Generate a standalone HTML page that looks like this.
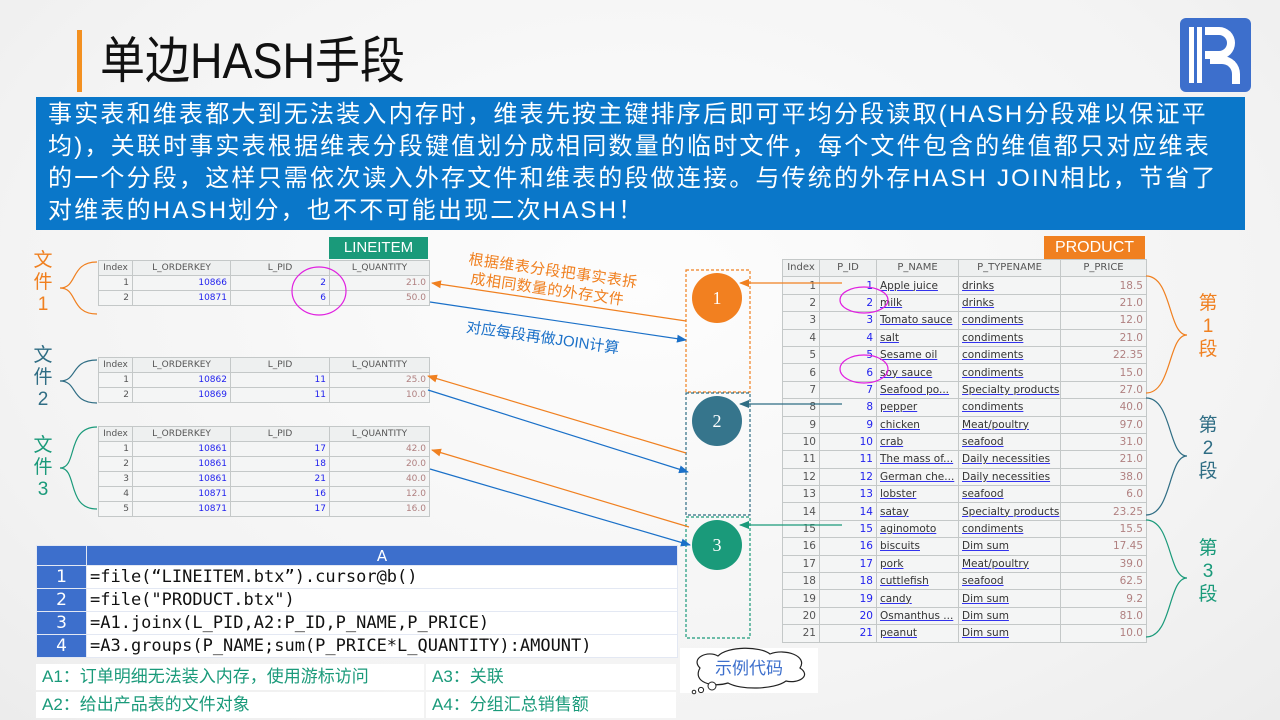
<!DOCTYPE html>
<html><head><meta charset="utf-8">
<style>
*{margin:0;padding:0;box-sizing:border-box}
body{width:1280px;height:720px;overflow:hidden;position:relative;background:radial-gradient(ellipse at 50% 40%,#fdfdfd 0%,#f3f3f3 70%,#ececec 100%);font-family:"Liberation Sans","Noto Sans CJK SC",sans-serif}
.abs{position:absolute}
table{border-collapse:collapse;table-layout:fixed;position:absolute;background:#f4f5f5}
td{border:1px solid #c4c8c8;font-family:"DejaVu Sans","Liberation Sans",sans-serif;white-space:nowrap;overflow:hidden;padding:0 3px}
.lt td{font-size:9px;height:15px;line-height:13px}
.lt tr.h td{color:#555;text-align:center;background:#eef0f0}
.lt td.i{text-align:right;color:#555}
.lt td.b{text-align:right;color:#2222ee}
.lt td.q{text-align:right;color:#b08080}
.pt td{font-size:10.5px;height:17.4px;line-height:16px}
.pt tr.h td{color:#555;text-align:center;font-size:10px;background:#eef0f0}
.pt td.i{text-align:right;color:#555}
.pt td.b{text-align:right;color:#2222ee}
.pt td.n{color:#333;text-decoration:underline;text-decoration-color:#3333ee}
.pt td.q{text-align:right;color:#b08080}
.cjk{font-family:"Liberation Sans","Noto Sans CJK SC",sans-serif}
.code td{border:1px solid #e3e8f3;height:23px;font-family:"DejaVu Sans Mono","Liberation Mono",monospace;font-size:17px;background:#fff;color:#111}
.code td.n{background:#3d6fcc;color:#fff;text-align:center;font-family:"DejaVu Sans",sans-serif;font-size:17px}
</style></head><body>
<div class="abs" style="left:77px;top:30px;width:5px;height:62px;background:#f39020"></div>
<div class="abs cjk" style="left:100px;top:28px;font-size:50px;line-height:66px;color:#111;transform:scaleX(0.9);transform-origin:0 0;white-space:nowrap">单边HASH手段</div>
<div class="abs" style="left:1180px;top:18px;width:71px;height:74px;background:#3d6fcc;border-radius:6px">
 <div class="abs" style="left:9px;top:9px;width:5px;height:56px;background:#fff"></div>
 <div class="abs" style="left:17px;top:9px;width:5px;height:56px;background:#fff"></div>
 <div class="abs" style="left:25px;top:9px;width:30px;height:32px;border:8px solid #fff;border-left:none;border-radius:0 16px 16px 0"></div>
 <div class="abs" style="left:30px;top:38px;width:30px;height:28px;border-top:8px solid #fff;border-right:8px solid #fff;border-radius:0 18px 0 0"></div>
</div>
<div class="abs cjk" style="left:36px;top:97px;width:1209px;height:133px;background:#0a77c9;color:#fff;font-size:24px;line-height:32px;padding:2px 0 0 12px;white-space:nowrap;letter-spacing:2.2px;overflow:hidden">事实表和维表都大到无法装入内存时，维表先按主键排序后即可平均分段读取(HASH分段难以保证平<br>均)，关联时事实表根据维表分段键值划分成相同数量的临时文件，每个文件包含的维值都只对应维表<br>的一个分段，这样只需依次读入外存文件和维表的段做连接。与传统的外存HASH JOIN相比，节省了<br>对维表的HASH划分，也不不可能出现二次HASH！</div>

<div class="abs" style="left:329px;top:237px;width:99px;height:22px;background:#1a9a7a;color:#fff;font-size:15px;text-align:center;line-height:22px">LINEITEM</div>
<div class="abs" style="left:1044px;top:236px;width:101px;height:23px;background:#f08020;color:#fff;font-size:16px;text-align:center;line-height:23px">PRODUCT</div>

<table class="lt" style="left:98px;top:260px;width:331px">
<col style="width:34px"><col style="width:98px"><col style="width:99px"><col style="width:100px">
<tr class="h"><td>Index</td><td>L_ORDERKEY</td><td>L_PID</td><td>L_QUANTITY</td></tr>
<tr><td class="i">1</td><td class="b">10866</td><td class="b">2</td><td class="q">21.0</td></tr>
<tr><td class="i">2</td><td class="b">10871</td><td class="b">6</td><td class="q">50.0</td></tr>
</table>
<table class="lt" style="left:98px;top:357px;width:331px">
<col style="width:34px"><col style="width:98px"><col style="width:99px"><col style="width:100px">
<tr class="h"><td>Index</td><td>L_ORDERKEY</td><td>L_PID</td><td>L_QUANTITY</td></tr>
<tr><td class="i">1</td><td class="b">10862</td><td class="b">11</td><td class="q">25.0</td></tr>
<tr><td class="i">2</td><td class="b">10869</td><td class="b">11</td><td class="q">10.0</td></tr>
</table>
<table class="lt" style="left:98px;top:426px;width:331px">
<col style="width:34px"><col style="width:98px"><col style="width:99px"><col style="width:100px">
<tr class="h"><td>Index</td><td>L_ORDERKEY</td><td>L_PID</td><td>L_QUANTITY</td></tr>
<tr><td class="i">1</td><td class="b">10861</td><td class="b">17</td><td class="q">42.0</td></tr>
<tr><td class="i">2</td><td class="b">10861</td><td class="b">18</td><td class="q">20.0</td></tr>
<tr><td class="i">3</td><td class="b">10861</td><td class="b">21</td><td class="q">40.0</td></tr>
<tr><td class="i">4</td><td class="b">10871</td><td class="b">16</td><td class="q">12.0</td></tr>
<tr><td class="i">5</td><td class="b">10871</td><td class="b">17</td><td class="q">16.0</td></tr>
</table>

<table class="pt" style="left:782px;top:259px;width:364px">
<col style="width:37px"><col style="width:57px"><col style="width:82px"><col style="width:102px"><col style="width:86px">
<tr class="h"><td>Index</td><td>P_ID</td><td>P_NAME</td><td>P_TYPENAME</td><td>P_PRICE</td></tr>
<tr><td class="i">1</td><td class="b">1</td><td class="n">Apple juice</td><td class="n">drinks</td><td class="q">18.5</td></tr>
<tr><td class="i">2</td><td class="b">2</td><td class="n">milk</td><td class="n">drinks</td><td class="q">21.0</td></tr>
<tr><td class="i">3</td><td class="b">3</td><td class="n">Tomato sauce</td><td class="n">condiments</td><td class="q">12.0</td></tr>
<tr><td class="i">4</td><td class="b">4</td><td class="n">salt</td><td class="n">condiments</td><td class="q">21.0</td></tr>
<tr><td class="i">5</td><td class="b">5</td><td class="n">Sesame oil</td><td class="n">condiments</td><td class="q">22.35</td></tr>
<tr><td class="i">6</td><td class="b">6</td><td class="n">soy sauce</td><td class="n">condiments</td><td class="q">15.0</td></tr>
<tr><td class="i">7</td><td class="b">7</td><td class="n">Seafood po...</td><td class="n">Specialty products</td><td class="q">27.0</td></tr>
<tr><td class="i">8</td><td class="b">8</td><td class="n">pepper</td><td class="n">condiments</td><td class="q">40.0</td></tr>
<tr><td class="i">9</td><td class="b">9</td><td class="n">chicken</td><td class="n">Meat/poultry</td><td class="q">97.0</td></tr>
<tr><td class="i">10</td><td class="b">10</td><td class="n">crab</td><td class="n">seafood</td><td class="q">31.0</td></tr>
<tr><td class="i">11</td><td class="b">11</td><td class="n">The mass of...</td><td class="n">Daily necessities</td><td class="q">21.0</td></tr>
<tr><td class="i">12</td><td class="b">12</td><td class="n">German che...</td><td class="n">Daily necessities</td><td class="q">38.0</td></tr>
<tr><td class="i">13</td><td class="b">13</td><td class="n">lobster</td><td class="n">seafood</td><td class="q">6.0</td></tr>
<tr><td class="i">14</td><td class="b">14</td><td class="n">satay</td><td class="n">Specialty products</td><td class="q">23.25</td></tr>
<tr><td class="i">15</td><td class="b">15</td><td class="n">aginomoto</td><td class="n">condiments</td><td class="q">15.5</td></tr>
<tr><td class="i">16</td><td class="b">16</td><td class="n">biscuits</td><td class="n">Dim sum</td><td class="q">17.45</td></tr>
<tr><td class="i">17</td><td class="b">17</td><td class="n">pork</td><td class="n">Meat/poultry</td><td class="q">39.0</td></tr>
<tr><td class="i">18</td><td class="b">18</td><td class="n">cuttlefish</td><td class="n">seafood</td><td class="q">62.5</td></tr>
<tr><td class="i">19</td><td class="b">19</td><td class="n">candy</td><td class="n">Dim sum</td><td class="q">9.2</td></tr>
<tr><td class="i">20</td><td class="b">20</td><td class="n">Osmanthus ...</td><td class="n">Dim sum</td><td class="q">81.0</td></tr>
<tr><td class="i">21</td><td class="b">21</td><td class="n">peanut</td><td class="n">Dim sum</td><td class="q">10.0</td></tr>
</table>

<div class="abs cjk" style="left:30px;top:250px;width:26px;text-align:center;color:#f08020;font-size:19px;line-height:22px">文<br>件<br>1</div>
<div class="abs cjk" style="left:30px;top:345px;width:26px;text-align:center;color:#2f6d84;font-size:19px;line-height:22px">文<br>件<br>2</div>
<div class="abs cjk" style="left:30px;top:435px;width:26px;text-align:center;color:#1a9a7a;font-size:19px;line-height:22px">文<br>件<br>3</div>
<div class="abs cjk" style="left:1195px;top:292px;width:26px;text-align:center;color:#f08020;font-size:19px;line-height:23px">第<br>1<br>段</div>
<div class="abs cjk" style="left:1195px;top:414px;width:26px;text-align:center;color:#2f6d84;font-size:19px;line-height:23px">第<br>2<br>段</div>
<div class="abs cjk" style="left:1195px;top:537px;width:26px;text-align:center;color:#1a9a7a;font-size:19px;line-height:23px">第<br>3<br>段</div>

<div class="abs cjk" style="left:470px;top:250px;color:#f08020;font-size:15px;line-height:19px;transform:rotate(8deg);transform-origin:0 0;white-space:nowrap;letter-spacing:0.5px">根据维表分段把事实表拆<br>&nbsp;成相同数量的外存文件</div>
<div class="abs cjk" style="left:468px;top:316px;color:#1a70c8;font-size:15px;transform:rotate(8deg);transform-origin:0 0;white-space:nowrap">对应每段再做JOIN计算</div>

<svg class="abs" style="left:0;top:0" width="1280" height="720">
<defs>
<marker id="mo" markerWidth="10" markerHeight="8" refX="9" refY="4" orient="auto" markerUnits="userSpaceOnUse"><path d="M0,0L10,4L0,8z" fill="#f08020"/></marker>
<marker id="mb" markerWidth="10" markerHeight="8" refX="9" refY="4" orient="auto" markerUnits="userSpaceOnUse"><path d="M0,0L10,4L0,8z" fill="#1a70c8"/></marker>
<marker id="md" markerWidth="10" markerHeight="8" refX="9" refY="4" orient="auto" markerUnits="userSpaceOnUse"><path d="M0,0L10,4L0,8z" fill="#2f6d84"/></marker>
<marker id="mg" markerWidth="10" markerHeight="8" refX="9" refY="4" orient="auto" markerUnits="userSpaceOnUse"><path d="M0,0L10,4L0,8z" fill="#1a9a7a"/></marker>
</defs>
<g fill="none" stroke-width="1.2">
<path d="M97,262 C70,262 78,288 60,288 C78,288 70,314 97,314" stroke="#f08020"/>
<path d="M97,360 C70,360 78,381 60,381 C78,381 70,403 97,403" stroke="#2f6d84"/>
<path d="M97,427 C66,427 78,468 60,468 C78,468 66,509 97,509" stroke="#1a9a7a"/>
<path d="M1146,276 C1172,276 1168,335 1187,335 C1168,335 1172,393 1146,393" stroke="#f08020"/>
<path d="M1146,398 C1172,398 1168,456 1187,456 C1168,456 1172,515 1146,515" stroke="#2f6d84"/>
<path d="M1146,520 C1172,520 1168,578 1187,578 C1168,578 1172,637 1146,637" stroke="#1a9a7a"/>
<rect x="686" y="270" width="64" height="122" stroke="#f08020" stroke-dasharray="3,2"/>
<rect x="686" y="393" width="64" height="122" stroke="#2f6d84" stroke-dasharray="3,2"/>
<rect x="686" y="517" width="64" height="121" stroke="#1a9a7a" stroke-dasharray="3,2"/>
<line x1="686" y1="321" x2="432" y2="283" stroke="#f08020" marker-end="url(#mo)"/>
<line x1="430" y1="302" x2="686" y2="340" stroke="#1a70c8" marker-end="url(#mb)"/>
<line x1="686" y1="453" x2="428" y2="376" stroke="#f08020" marker-end="url(#mo)"/>
<line x1="428" y1="390" x2="688" y2="472" stroke="#1a70c8" marker-end="url(#mb)"/>
<line x1="689" y1="527" x2="432" y2="450" stroke="#f08020" marker-end="url(#mo)"/>
<line x1="430" y1="469" x2="690" y2="545" stroke="#1a70c8" marker-end="url(#mb)"/>
<line x1="842" y1="283" x2="740" y2="283" stroke="#f08020" marker-end="url(#mo)"/>
<line x1="842" y1="404" x2="740" y2="404" stroke="#2f6d84" marker-end="url(#md)"/>
<line x1="842" y1="525" x2="740" y2="525" stroke="#1a9a7a" marker-end="url(#mg)"/>
<ellipse cx="319" cy="291" rx="27" ry="24" stroke="#e020e0"/>
<ellipse cx="864" cy="300" rx="24" ry="13" stroke="#e020e0"/>
<ellipse cx="864" cy="369" rx="24" ry="14" stroke="#e020e0"/>
</g>
<circle cx="717" cy="298" r="25" fill="#f28020"/>
<circle cx="717" cy="421" r="25" fill="#36758c"/>
<circle cx="717" cy="545" r="25" fill="#1a9a7a"/>
<g fill="#fff" font-family="Liberation Serif,serif" font-size="18" text-anchor="middle">
<text x="717" y="304">1</text><text x="717" y="427">2</text><text x="717" y="551">3</text>
</g>
<rect x="680" y="648" width="138" height="45" fill="#fff"/>
<path d="M700,668 C690,658 708,650 718,656 C728,646 760,646 770,654 C785,648 808,656 800,668 C812,676 798,684 786,681 C774,690 740,690 728,683 C712,688 692,682 700,668z" fill="#fff" stroke="#222" stroke-width="1.2"/>
<circle cx="712" cy="686" r="4" fill="#fff" stroke="#222"/>
<circle cx="701" cy="690" r="2.6" fill="#fff" stroke="#222"/>
<circle cx="694" cy="692" r="1.8" fill="#fff" stroke="#222"/>
<text x="749" y="674" font-family="Liberation Sans,Noto Sans CJK SC,sans-serif" font-size="17" fill="#3d6fcc" text-anchor="middle">示例代码</text>
</svg>

<table class="code" style="left:36px;top:545px;width:641px">
<col style="width:50px"><col style="width:591px">
<tr><td class="n" style="height:20px;font-size:15px"></td><td class="n" style="height:20px;font-size:15px">A</td></tr>
<tr><td class="n">1</td><td>=file(“LINEITEM.btx”).cursor@b()</td></tr>
<tr><td class="n">2</td><td>=file("PRODUCT.btx")</td></tr>
<tr><td class="n">3</td><td>=A1.joinx(L_PID,A2:P_ID,P_NAME,P_PRICE)</td></tr>
<tr><td class="n">4</td><td>=A3.groups(P_NAME;sum(P_PRICE*L_QUANTITY):AMOUNT)</td></tr>
</table>
<div class="abs cjk" style="left:36px;top:664px;width:388px;height:26px;background:#fff;color:#1a9a7a;font-size:17px;line-height:26px;padding-left:6px">A1：订单明细无法装入内存，使用游标访问</div>
<div class="abs cjk" style="left:36px;top:692px;width:388px;height:26px;background:#fff;color:#1a9a7a;font-size:17px;line-height:26px;padding-left:6px">A2：给出产品表的文件对象</div>
<div class="abs cjk" style="left:426px;top:664px;width:250px;height:26px;background:#fff;color:#1a9a7a;font-size:17px;line-height:26px;padding-left:6px">A3：关联</div>
<div class="abs cjk" style="left:426px;top:692px;width:250px;height:26px;background:#fff;color:#1a9a7a;font-size:17px;line-height:26px;padding-left:6px">A4：分组汇总销售额</div>
</body></html>
